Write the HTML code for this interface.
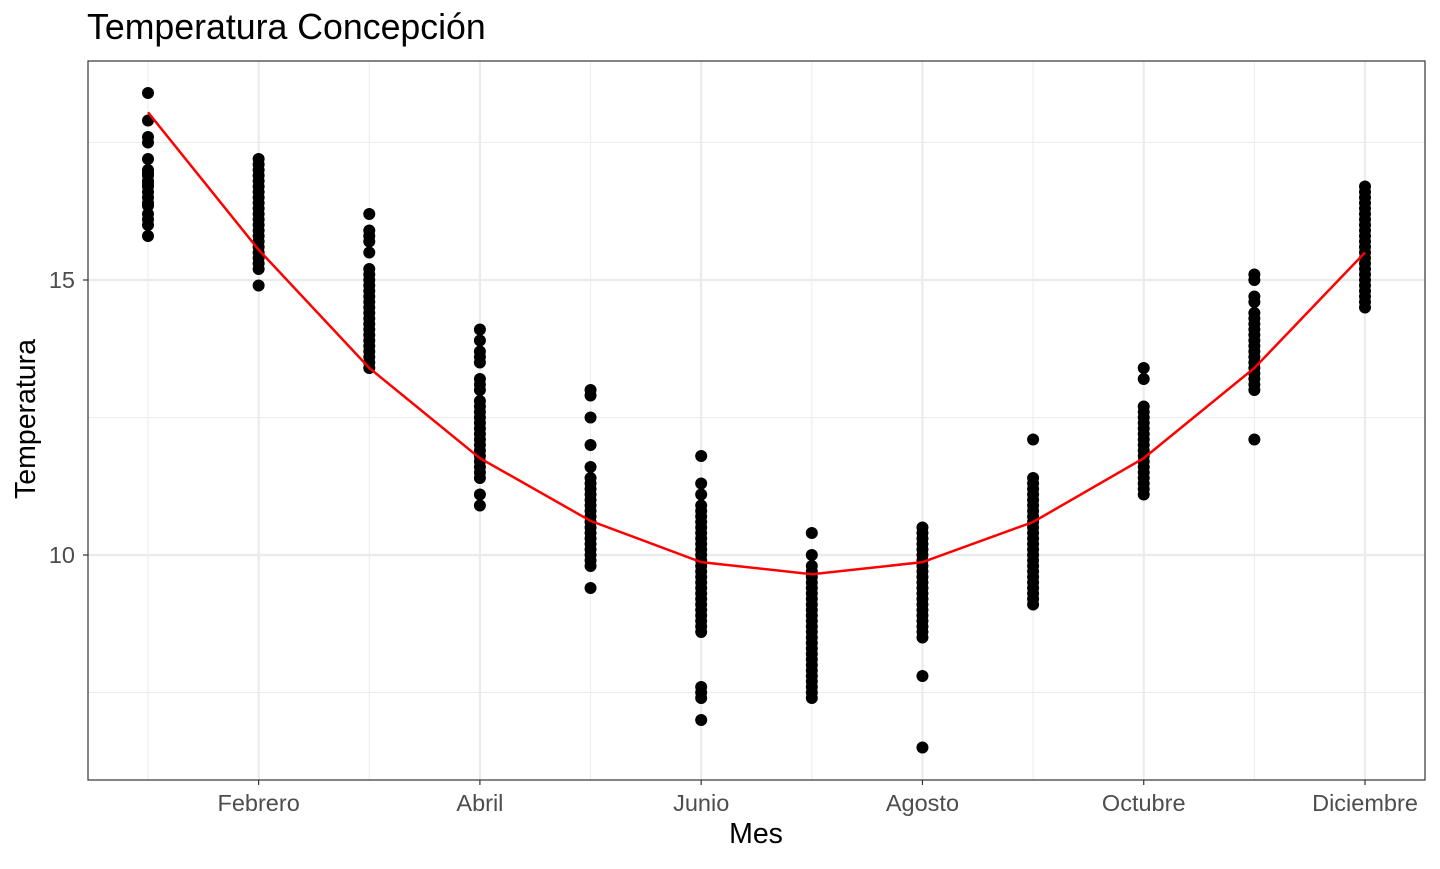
<!DOCTYPE html>
<html><head><meta charset="utf-8"><style>
body{margin:0;background:#fff;font-family:"Liberation Sans",sans-serif}
svg text{font-family:"Liberation Sans",sans-serif}
</style></head><body>
<svg id="chart" width="1440" height="864" xmlns="http://www.w3.org/2000/svg">
<rect width="1440" height="864" fill="#fff"/>
<text x="87" y="39" font-size="35.7" fill="#000">Temperatura Concepción</text>
<g id="grid"></g>
<g id="series"></g>
<rect x="88" y="61" width="1337" height="719" fill="none" stroke="#333" stroke-width="1.2"/>
<g id="axes"></g>
<text x="756" y="843" font-size="28.5" text-anchor="middle">Mes</text>
<text transform="translate(35,419) rotate(-90)" font-size="28.5" text-anchor="middle">Temperatura</text>
</svg>
<script>
const months=[1,2,3,4,5,6,7,8,9,10,11,12];
const monthLabels=["Febrero","Abril","Junio","Agosto","Octubre","Diciembre"];
const labelMonths=[2,4,6,8,10,12];
const yTicks=[10,15];
const yMinor=[7.5,12.5,17.5];
const meanTemp=[18.05,15.55,13.4,11.76,10.62,9.87,9.65,9.87,10.6,11.76,13.4,15.5];
const obs1=[18.4,17.9,17.6,17.5,17.2,17.0,16.95,16.9,16.8,16.75,16.7,16.6,16.5,16.4,16.35,16.2,16.1,16.0,15.8];
const obs2=[17.2,17.1,17.0,16.9,16.8,16.7,16.6,16.5,16.4,16.3,16.2,16.1,16.0,15.9,15.8,15.7,15.6,15.5,15.4,15.3,15.2,14.9];
const obs3=[16.2,15.9,15.8,15.7,15.5,15.2,15.1,15.0,14.9,14.8,14.7,14.6,14.5,14.4,14.3,14.2,14.1,14.0,13.9,13.8,13.7,13.6,13.5,13.4];
const obs4=[14.1,13.9,13.7,13.6,13.5,13.2,13.1,13.0,12.8,12.7,12.6,12.5,12.4,12.3,12.2,12.1,12.0,11.9,11.8,11.7,11.6,11.5,11.4,11.1,10.9];
const obs5=[13.0,12.9,12.5,12.0,11.6,11.4,11.3,11.2,11.1,11.0,10.9,10.8,10.7,10.6,10.5,10.4,10.3,10.2,10.1,10.0,9.9,9.8,9.4];
const obs6=[11.8,11.3,11.1,10.9,10.8,10.7,10.6,10.5,10.4,10.3,10.2,10.1,10.0,9.9,9.8,9.7,9.6,9.5,9.4,9.3,9.2,9.1,9.0,8.9,8.8,8.7,8.6,7.6,7.5,7.4,7.0];
const obs7=[10.4,10.0,9.8,9.7,9.6,9.5,9.4,9.3,9.2,9.1,9.0,8.9,8.8,8.7,8.6,8.5,8.4,8.3,8.2,8.1,8.0,7.9,7.8,7.7,7.6,7.5,7.4];
const obs8=[10.5,10.4,10.3,10.2,10.1,10.0,9.9,9.8,9.7,9.6,9.5,9.4,9.3,9.2,9.1,9.0,8.9,8.8,8.7,8.6,8.5,7.8,6.5];
const obs9=[12.1,11.4,11.3,11.2,11.1,11.0,10.9,10.8,10.7,10.6,10.5,10.4,10.3,10.2,10.1,10.0,9.9,9.8,9.7,9.6,9.5,9.4,9.3,9.2,9.1];
const obs10=[13.4,13.2,12.7,12.6,12.5,12.4,12.3,12.2,12.1,12.0,11.9,11.8,11.7,11.6,11.5,11.4,11.3,11.2,11.1];
const obs11=[15.1,15.0,14.7,14.6,14.4,14.3,14.2,14.1,14.0,13.9,13.8,13.7,13.6,13.5,13.4,13.3,13.2,13.1,13.0,12.1];
const obs12=[16.7,16.6,16.5,16.4,16.3,16.2,16.1,16.0,15.9,15.8,15.7,15.6,15.5,15.4,15.3,15.2,15.1,15.0,14.9,14.8,14.7,14.6,14.5];
const observations=[obs1,obs2,obs3,obs4,obs5,obs6,obs7,obs8,obs9,obs10,obs11,obs12];

const NS="http://www.w3.org/2000/svg";
const X0=88,X1=1425,Y0=61,Y1=780;
const xS=m=>148+(m-1)*(1365-148)/11;
const yS=v=>555-(v-10)*55;
function mk(tag,attrs,parent){const e=document.createElementNS(NS,tag);for(const k in attrs)e.setAttribute(k,attrs[k]);parent.appendChild(e);return e;}
const grid=document.getElementById('grid'),series=document.getElementById('series'),axes=document.getElementById('axes');
mk('rect',{x:X0,y:Y0,width:X1-X0,height:Y1-Y0,fill:'#fff'},grid);
yMinor.forEach(v=>{const l=mk('line',{x1:X0,x2:X1,y1:yS(v),y2:yS(v),stroke:'#ebebeb','stroke-width':1},grid);

});
months.forEach(m=>{const major=labelMonths.includes(m);const l=mk('line',{x1:xS(m),x2:xS(m),y1:Y0,y2:Y1,stroke:'#ebebeb','stroke-width':major?2.2:1},grid);

});
yTicks.forEach(v=>{const l=mk('line',{x1:X0,x2:X1,y1:yS(v),y2:yS(v),stroke:'#ebebeb','stroke-width':2.2},grid);


const t=mk('line',{x1:X0-5,x2:X0,y1:yS(v),y2:yS(v),stroke:'#333','stroke-width':1.2},axes);


const tx=mk('text',{x:X0-13,y:yS(v)+8,'font-size':23.5,fill:'#4d4d4d','text-anchor':'end'},axes);tx.textContent=v;

});
labelMonths.forEach((m,i)=>{const t=mk('line',{x1:xS(m),x2:xS(m),y1:Y1,y2:Y1+5,stroke:'#333','stroke-width':1.2},axes);


const tx=mk('text',{x:xS(m),y:Y1+31,'font-size':23.5,fill:'#4d4d4d','text-anchor':'middle'},axes);tx.textContent=monthLabels[i];

});
observations.forEach((arr,i)=>arr.forEach(v=>{const c=mk('circle',{cx:xS(months[i]),cy:yS(v),r:6,fill:'#000'},series);

}));
const pl=mk('polyline',{points:meanTemp.map((v,i)=>xS(months[i])+','+yS(v)).join(' '),fill:'none',stroke:'#ff0000','stroke-width':2.5},series);


</script>
</body></html>
